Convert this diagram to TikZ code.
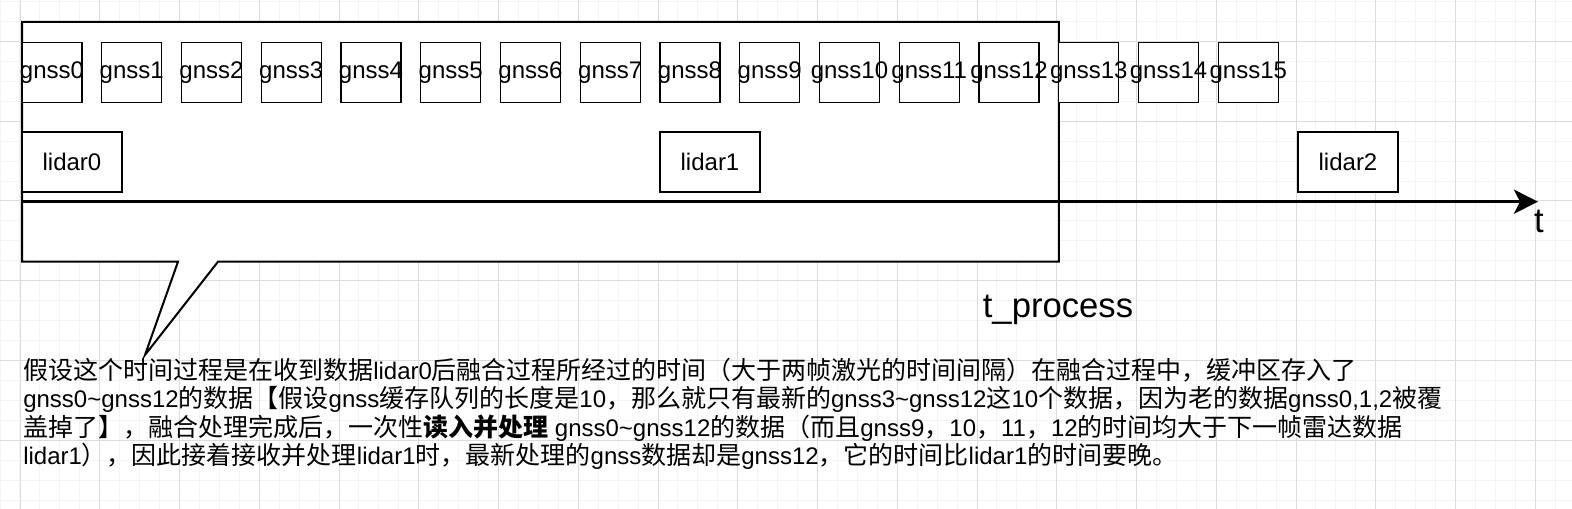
\documentclass[tikz,border=0pt]{standalone}
\usepackage{fontspec}
\setmainfont{Liberation Sans}
\newfontfamily\cjk{Noto Sans CJK SC}
\usetikzlibrary{arrows.meta}
\definecolor{gridminor}{HTML}{F4F4F4}
\definecolor{gridmajor}{HTML}{DCDCDC}
\newcommand\zh[1]{{\cjk\fontsize{18.75pt}{21pt}\selectfont #1}}
\begin{document}
\begin{tikzpicture}[x=0.75pt,y=-0.75pt,
 gbox/.style={draw,fill=white,line width=1pt,minimum width=45pt,minimum height=45pt,inner sep=0pt,
  label={[font=\fontsize{18pt}{21pt}\selectfont]center:#1}},
 lbox/.style={draw,fill=white,line width=1pt,minimum width=75pt,minimum height=45pt,inner sep=0pt,font=\fontsize{18pt}{21pt}\selectfont},
 desc/.style={anchor=base west,inner sep=0pt,font=\fontsize{18pt}{21pt}\selectfont},
 big/.style={anchor=base,inner sep=0pt,font=\fontsize{26pt}{30pt}\selectfont}]
 \def\dx{79.75} % one grid step = one gnss period
 \def\ty{201.7} % time axis
 \useasboundingbox (0,0) rectangle (1572,509);
 \fill[white] (0,0) rectangle (1572,509);
 % grid
 \foreach \k in {0,...,79} \draw[gridminor,line width=0.75pt] ({0.06+\dx/4*\k},0) -- ++(0,509);
 \foreach \k in {0,...,25} \draw[gridminor,line width=0.75pt] (0,{1.6+\dx/4*\k}) -- ++(1572,0);
 \foreach \k in {0,...,19} \draw[gridmajor,line width=0.75pt] ({20+\dx*\k},0) -- ++(0,509);
 \foreach \k in {0,...,5} \draw[gridmajor,line width=0.75pt] (0,{41.5+\dx*\k}) -- ++(1572,0);
 % callout for t_process
 \draw[line width=1.5pt,fill=white] (22,22) -- ({22+13*\dx},22) -- ({22+13*\dx},261.7) -- (218,261.7) -- (145,355) -- (178,261.7) -- (22,261.7) -- cycle;
 % gnss frames
 \foreach \i in {0,...,15} \node[gbox=gnss\i] (g\i) at ({52+\dx*\i},72.3) {};
 % lidar frames
 \foreach \i/\n in {0/0,1/8,2/16} \node[lbox] (l\i) at ({72+\dx*\n},162) {lidar\i};
 \coordinate (t0) at (22,\ty);
 \coordinate (t1) at (1538,\ty);
 \draw[line width=2.25pt,-{Stealth[length=18pt,width=18pt,inset=4.5pt]}] (t0) -- (t1);
 \node[big] (tlab) at (1539,233) {t};
 \node[big] (tproc) at (1058,318) {t\_process};
 \node[desc] (d1) at (23,380) {\zh{假设这个时间过程是在收到数据}lidar0\zh{后融合过程所经过的时间（大于两帧激光的时间间隔）在融合过程中，缓冲区存入了}};
 \node[desc] (d2) at (23,408) {gnss0\textasciitilde{}gnss12\zh{的数据【假设}gnss\zh{缓存队列的长度是}10\zh{，那么就只有最新的}gnss3\textasciitilde{}gnss12\zh{这}10\zh{个数据，因为老的数据}gnss0,1,2\zh{被覆}};
 \node[desc] (d3) at (23,436.5) {\zh{盖掉了】，融合处理完成后，一次性}\zh{\bfseries 读入并处理} gnss0\textasciitilde{}gnss12\zh{的数据（而且}gnss9\zh{，}10\zh{，}11\zh{，}12\zh{的时间均大于下一帧雷达数据}};
 \node[desc] (d4) at (23,465) {lidar1\zh{），因此接着接收并处理}lidar1\zh{时，最新处理的}gnss\zh{数据却是}gnss12\zh{，它的时间比}lidar1\zh{的时间要晚。}};
\end{tikzpicture}
\end{document}
